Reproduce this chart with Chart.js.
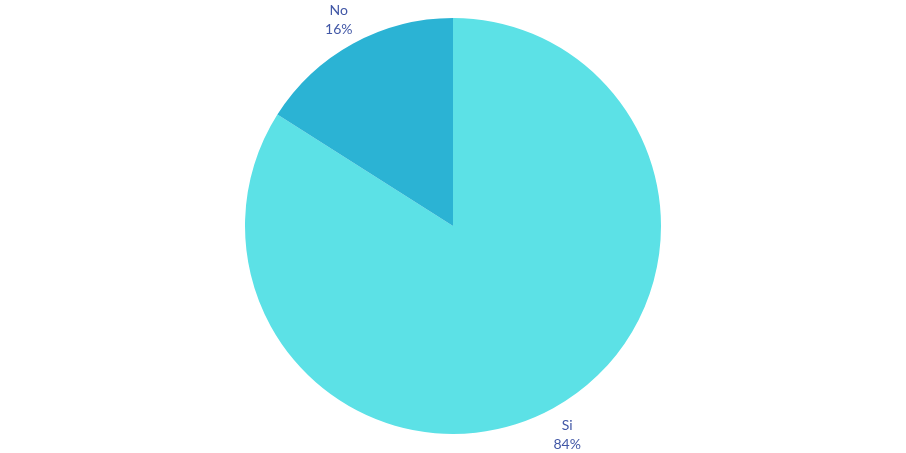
<!DOCTYPE html>
<html>
<head>
<meta charset="utf-8">
<script src="https://cdn.jsdelivr.net/npm/chart.js@4"></script>
<style>
  html, body { margin: 0; padding: 0; background: #fff; }
  #wrap { width: 906px; height: 453px; }
</style>
</head>
<body>
<div id="wrap"><canvas id="chart"></canvas></div>
<script>
// データ
const labels = ['Si', 'No'];
const values = [84, 16];
const colors = ['#5ce1e6', '#2bb3d4'];

// ラベルを扇形の外側に描くプラグイン
const outsideLabels = {
  id: 'outsideLabels',
  afterDatasetsDraw(chart) {
    const ctx = chart.ctx;
    const meta = chart.getDatasetMeta(0);
    const total = values.reduce((a, b) => a + b, 0);
    ctx.save();
    ctx.fillStyle = '#4157a6';
    ctx.font = '14px Lato, "DejaVu Sans", sans-serif';
    ctx.textAlign = 'center';
    ctx.textBaseline = 'middle';
    meta.data.forEach((arc, i) => {
      const mid = (arc.startAngle + arc.endAngle) / 2;
      const r = arc.outerRadius + 29;
      const x = arc.x + Math.cos(mid) * r;
      const y = arc.y + Math.sin(mid) * r;
      const pct = Math.round(values[i] / total * 100) + '%';
      ctx.fillText(labels[i], x, y - 8);
      ctx.fillText(pct, x, y + 11);
    });
    ctx.restore();
  }
};

new Chart(document.getElementById('chart'), {
  type: 'pie',
  data: {
    labels: labels,
    datasets: [{
      data: values,
      backgroundColor: colors,
      borderWidth: 0
    }]
  },
  options: {
    responsive: true,
    maintainAspectRatio: false,
    animation: false,
    layout: { padding: { top: 18, bottom: 19 } },
    plugins: {
      legend: { display: false },
      tooltip: { enabled: false }
    }
  },
  plugins: [outsideLabels]
});
</script>
</body>
</html>
